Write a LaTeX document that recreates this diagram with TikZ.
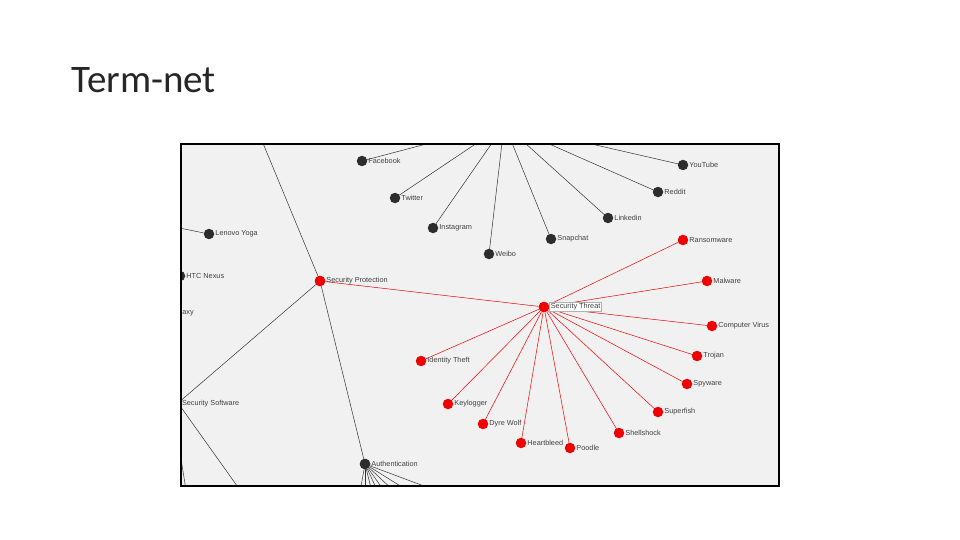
\documentclass[tikz,border=0pt]{standalone}
\usepackage{fontspec}
\setmainfont{Liberation Sans}
\newfontfamily\titlefont{Carlito}
\usetikzlibrary{positioning}
\definecolor{panel}{RGB}{241,241,241}
\definecolor{dotgray}{RGB}{45,45,45}
\definecolor{threat}{RGB}{240,0,0}

\tikzset{
	dot/.style={circle,fill=#1,inner sep=0pt,minimum size=10.5pt},
	lbl/.style={font=\fontsize{7.3}{8}\selectfont,text=black!75,inner sep=0.8pt},
	blackline/.style={draw=black!80,line width=0.5pt},
	redline/.style={draw=threat,line width=0.5pt}
}

\begin{document}
\begin{tikzpicture}[x=1pt,y=-1pt]

	\useasboundingbox[fill=white] (0,0) rectangle (960,540);

	% title
	\node[anchor=west,text=black!85,font=\titlefont\fontsize{39}{44}\selectfont] (title) at (68,80) {Term-net};

	\fill[panel] (181,144) rectangle (779,486);

	\begin{scope}
	\clip (181,144) rectangle (779,486);

	% coordinates off the panel
	\coordinate (top) at (260,136);
	\coordinate (lenovoend) at (150,222);
	\coordinate (soft) at (178,403);
	\coordinate (softend) at (240,490);
	\coordinate (leftend) at (186,490);
	\coordinate (leftstart) at (178,440);

	% hubs
	\node[dot=threat] (prot) at (320,281) {};
	\node[dot=threat] (threat) at (544,307) {};
	\node[dot=dotgray] (auth) at (365,464) {};
	\node[dot=dotgray] (lenovo) at (209,234) {};
	\node[dot=dotgray] (htc) at (180,276) {};

	% social leaves
	\foreach \name/\x/\y/\tx in {Facebook/362/161/430,Twitter/395/198/477,Instagram/433/228/492,Weibo/489/254/502,Snapchat/551/239/512,Linkedin/608/218/525,Reddit/658/192/547,YouTube/683/165/587}{
		\coordinate (\name-top) at (\tx,143);
		\draw[blackline] (\name-top) -- (\x,\y);
		\node[dot=dotgray] (\name) at (\x,\y) {};
		\node[lbl,right=0pt of \name] {\name};
	}

	% threat leaves
	\foreach \name/\txt/\x/\y in {ransom/Ransomware/683/240,malware/Malware/707/281,virus/Computer Virus/712/326,trojan/Trojan/697/356,spyware/Spyware/687/384,superfish/Superfish/658/412,shellshock/Shellshock/619/433,poodle/Poodle/570/448,heartbleed/Heartbleed/521/443,dyre/Dyre Wolf/483/424,keylogger/Keylogger/448/404,identity/Identity Theft/421/361}{
		\draw[redline] (threat) -- (\x,\y);
		\node[dot=threat] (\name) at (\x,\y) {};
		\node[lbl,right=0pt of \name] {\txt};
	}

	% edges
	\draw[redline] (prot) -- (threat);
	\draw[blackline] (top) -- (prot) -- (auth);
	\draw[blackline] (soft) -- (prot);
	\draw[blackline] (soft) -- (softend);
	\draw[blackline] (leftstart) -- (leftend);
	\draw[blackline] (lenovoend) -- (lenovo);
	\foreach \x in {360,365,372,378,385,395,410,440}{
		\draw[blackline] (auth) -- (\x,492);
	}

	\node[dot=threat] at (threat) {};
	\node[dot=threat] at (prot) {};
	\node[dot=dotgray] at (auth) {};

	% labels of the hubs
	\node[lbl,right=0pt of prot] {Security Protection};
	\node[lbl,right=0pt of threat,fill=white,draw=black!30,inner sep=1.2pt] {Security Threat};
	\node[lbl,right=0pt of auth] {Authentication};
	\node[lbl,right=0pt of lenovo] {Lenovo Yoga};
	\node[lbl,right=0pt of htc] {HTC Nexus};
	\node[lbl,anchor=west] (galaxy) at (170,313) {Galaxy};
	\node[lbl,anchor=west] (softlbl) at (181,404) {Security Software};
	\end{scope}

	\draw[line width=1.5pt] (181,144) rectangle (779,486);

\end{tikzpicture}
\end{document}
